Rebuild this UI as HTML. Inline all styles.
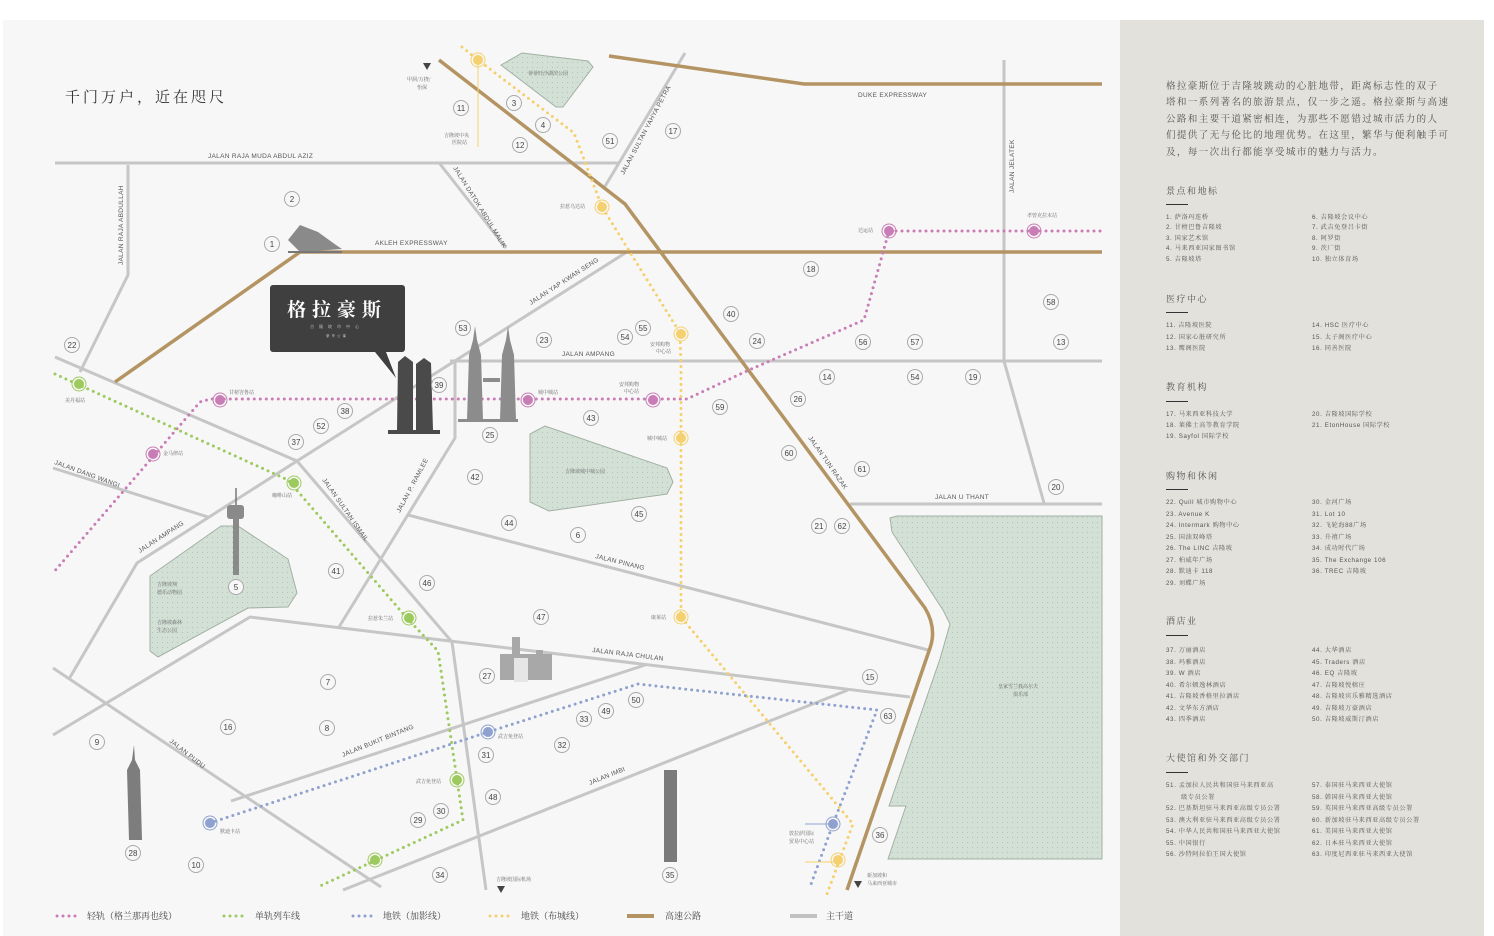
<!DOCTYPE html>
<html><head><meta charset="utf-8"><style>
html,body{margin:0;padding:0;background:#fff;}
svg{display:block;font-family:"Liberation Sans","Noto Sans CJK SC",sans-serif;}
.rd{fill:none;stroke:#c6c6c6;stroke-width:3;}
.hw{fill:none;stroke:#b39462;stroke-width:3.5;}
.dot{fill:none;stroke-width:3;stroke-linecap:round;stroke-dasharray:0 6;}
.lb{font-size:6.5px;fill:#555;letter-spacing:0.3px;}
.st{font-family:"Noto Serif CJK SC",serif;font-size:5px;fill:#666;}
.n circle{fill:#f7f7f7;stroke:#a9a9a9;stroke-width:1;}
.n text{font-size:8px;fill:#444;text-anchor:middle;}
.it{font-size:6.2px;fill:#555;font-family:"Liberation Sans","Noto Serif CJK SC",serif;letter-spacing:0.6px;}
.hd{font-size:9px;fill:#555;letter-spacing:1.5px;font-family:"Noto Serif CJK SC",serif;}
.pa{font-size:9.6px;fill:#555;letter-spacing:1.3px;font-family:"Noto Serif CJK SC",serif;}
</style></head><body>
<svg width="1494" height="936" viewBox="0 0 1494 936">
<defs>
<pattern id="dp" width="5" height="5" patternUnits="userSpaceOnUse"><rect width="5" height="5" fill="#d3e0d6"/><circle cx="2.5" cy="2.5" r="0.5" fill="#a9b9aa"/></pattern>
</defs>
<rect x="3" y="20" width="1117" height="916" fill="#f7f7f7"/>
<rect x="1120" y="20" width="364" height="916" fill="#e2e1dc"/>

<polygon fill="url(#dp)" stroke="#a2b0a4" points="501,65 522,53 588,61 593,67 563,107 556,107"/>
<polygon fill="url(#dp)" stroke="#a2b0a4" points="530,434 545,426 667,468 673,482 667,494 549,511 530,502"/>
<polygon fill="url(#dp)" stroke="#a2b0a4" points="150,576 221,526 238,526 288,559 297,593 288,607 248,608 158,657 150,651"/>
<polygon fill="url(#dp)" stroke="#a2b0a4" points="890,518 897,516 1102,516 1102,859 888,859 906,806 889,806 940,659 950,624 943,610 892,532"/>

<polyline class="rd" points="55,163 619,163"/>
<polyline class="rd" points="685,53 604,188"/>
<polyline class="rd" points="440,164 506,248"/>
<polyline class="rd" points="1004,60 1004,361 1044,503"/>
<polyline class="rd" points="850,504 1102,504"/>
<polyline class="rd" points="450,361 1102,361"/>
<polyline class="rd" points="630,250 297,461 137,563 69,679"/>
<polyline class="rd" points="53,668 381,887"/>
<polyline class="rd" points="53,735 250,617 700,671 910,697"/>
<polyline class="rd" points="128,165 128,275 80,372"/>
<polyline class="rd" points="55,357 297,461 452,642 486,890"/>
<polyline class="rd" points="53,468 208,517"/>
<polyline class="rd" points="455,361 455,438 339,627"/>
<polyline class="rd" points="408,515 928,650"/>
<polyline class="rd" points="231,801 645,665"/>
<polyline class="rd" points="343,890 848,690"/>

<polyline class="hw" points="115,382 300,252 1102,252"/>
<polyline class="hw" points="609,56 804,84 1102,84"/>
<path class="hw" d="M439,60 L625,204 L925,608 Q937,628 930,648 L847,890"/>

<line x1="478" y1="60" x2="478" y2="147" stroke="#f5d06e" stroke-width="1"/>
<polyline class="dot" stroke="#c97db6" points="1100,231 889,231 864,320 749,370 687,399 210,399 200,402 53,573"/>
<polyline class="dot" stroke="#f5d06e" points="462,47 478,60 574,133 602,207 680,333 681,370 681,617 853,824 827,894"/>
<polyline class="dot" stroke="#9dca5e" points="55,374 288,480 406,617 438,651 463,820 320,886"/>
<polyline class="dot" stroke="#8fa2cf" points="210,823 488,732 638,684 877,710 833,824 810,887"/>
<line x1="805" y1="824" x2="830" y2="824" stroke="#8fa2cf" stroke-width="1"/>
<line x1="805" y1="862" x2="835" y2="862" stroke="#f5d06e" stroke-width="1"/>

<g stroke-width="1">
<g fill="#c97db6" stroke="#c97db6"><circle cx="889" cy="231" r="4.5"/><circle cx="1034" cy="231" r="4.5"/><circle cx="653" cy="400" r="4.5"/><circle cx="528" cy="400" r="4.5"/><circle cx="220" cy="400" r="4.5"/><circle cx="153" cy="454" r="4.5"/></g>
<g fill="none" stroke="#c97db6"><circle cx="889" cy="231" r="7"/><circle cx="1034" cy="231" r="7"/><circle cx="653" cy="400" r="7"/><circle cx="528" cy="400" r="7"/><circle cx="220" cy="400" r="7"/><circle cx="153" cy="454" r="7"/></g>
<g fill="#f5d06e" stroke="#f5d06e"><circle cx="478" cy="60" r="4.5"/><circle cx="602" cy="207" r="4.5"/><circle cx="681" cy="334" r="4.5"/><circle cx="681" cy="438" r="4.5"/><circle cx="681" cy="617" r="4.5"/><circle cx="838" cy="860" r="4.5"/></g>
<g fill="none" stroke="#f5d06e"><circle cx="478" cy="60" r="7"/><circle cx="602" cy="207" r="7"/><circle cx="681" cy="334" r="7"/><circle cx="681" cy="438" r="7"/><circle cx="681" cy="617" r="7"/><circle cx="838" cy="860" r="7"/></g>
<g fill="#9dca5e" stroke="#9dca5e"><circle cx="79" cy="384" r="4.5"/><circle cx="294" cy="483" r="4.5"/><circle cx="409" cy="618" r="4.5"/><circle cx="457" cy="780" r="4.5"/><circle cx="375" cy="860" r="4.5"/></g>
<g fill="none" stroke="#9dca5e"><circle cx="79" cy="384" r="7"/><circle cx="294" cy="483" r="7"/><circle cx="409" cy="618" r="7"/><circle cx="457" cy="780" r="7"/><circle cx="375" cy="860" r="7"/></g>
<g fill="#8fa2cf" stroke="#8fa2cf"><circle cx="210" cy="823" r="4.5"/><circle cx="488" cy="732" r="4.5"/><circle cx="833" cy="824" r="4.5"/></g>
<g fill="none" stroke="#8fa2cf"><circle cx="210" cy="823" r="7"/><circle cx="488" cy="732" r="7"/><circle cx="833" cy="824" r="7"/></g>
</g>

<g class="st">
<text x="1027" y="217">孝曾克拉末站</text><text x="858" y="232">达运站</text>
<text x="619" y="386">安邦购物</text><text x="624" y="393">中心站</text>
<text x="538" y="394">城中城站</text><text x="229" y="394">甘榜峇鲁站</text><text x="163" y="455">金马律站</text>
<text x="65" y="402">美丹福站</text><text x="272" y="497">咖啡山站</text><text x="368" y="620">拉惹朱兰站</text>
<text x="416" y="783">武吉免登站</text><text x="220" y="833">默迪卡站</text><text x="498" y="738">武吉免登站</text>
<text x="560" y="208">拉惹乌达站</text><text x="650" y="346">安邦购物</text><text x="656" y="353">中心站</text>
<text x="647" y="440">城中城站</text><text x="651" y="619">康莱站</text>
<text x="444" y="137">吉隆坡中央</text><text x="452" y="144">医院站</text>
<text x="407" y="81">甲洞/万挠/</text><text x="417" y="89">怡保</text>
<text x="789" y="835">敦拉萨国际</text><text x="789" y="843">贸易中心站</text>
<text x="867" y="877">新加坡和</text><text x="867" y="885">马来西亚城市</text>
<text x="496" y="881">吉隆坡国际机场</text>
<text x="528" y="75">蒂蒂旺沙湖滨公园</text><text x="565" y="473">吉隆坡城中城公园</text>
<text x="157" y="586">吉隆坡翔</text><text x="157" y="594">德乐动物园</text>
<text x="157" y="624">吉隆坡森林</text><text x="157" y="632">生态公园</text>
<text x="998" y="688">皇家雪兰莪高尔夫</text><text x="1013" y="696">俱乐部</text>
</g>
<g fill="#444"><polygon points="423,63 431,63 427,70"/><polygon points="497,886 505,886 501,893"/><polygon points="854,881 862,881 858,888"/></g>

<g class="lb">
<text x="208" y="158">JALAN RAJA MUDA ABDUL AZIZ</text>
<text x="858" y="97">DUKE EXPRESSWAY</text>
<text x="375" y="245">AKLEH EXPRESSWAY</text>
<text x="562" y="356">JALAN AMPANG</text>
<text x="935" y="499">JALAN U THANT</text>
<text transform="translate(123,265) rotate(-90)">JALAN RAJA ABDULLAH</text>
<text transform="translate(1014,193) rotate(-90)">JALAN JELATEK</text>
<text transform="translate(624,175) rotate(-62)">JALAN SULTAN YAHYA PETRA</text>
<text transform="translate(453,168) rotate(58)">JALAN DATOK ABDUL MALIK</text>
<text transform="translate(531,305) rotate(-33)">JALAN YAP KWAN SENG</text>
<text transform="translate(808,438) rotate(55)">JALAN TUN RAZAK</text>
<text transform="translate(54,464) rotate(20)">JALAN DANG WANGI</text>
<text transform="translate(140,553) rotate(-33)">JALAN AMPANG</text>
<text transform="translate(322,480) rotate(55)">JALAN SULTAN ISMAIL</text>
<text transform="translate(400,513) rotate(-62)">JALAN P. RAMLEE</text>
<text transform="translate(595,558) rotate(14)">JALAN PINANG</text>
<text transform="translate(592,652) rotate(7)">JALAN RAJA CHULAN</text>
<text transform="translate(343,757) rotate(-22)">JALAN BUKIT BINTANG</text>
<text transform="translate(169,742) rotate(38)">JALAN PUDU</text>
<text transform="translate(590,785) rotate(-22)">JALAN IMBI</text>
</g>

<g>
<path d="M288,240 L300,225 L318,232 L336,245 L342,249 L300,252 Z" fill="#8a8a8a"/>
<line x1="288" y1="252" x2="342" y2="252" stroke="#777" stroke-width="2"/>
<g fill="#8c8c8c"><polygon points="467,420 469,355 473,340 475,326 477,340 481,355 483,420"/><polygon points="500,420 502,355 506,340 508,326 510,340 514,355 516,420"/>
<rect x="483" y="378" width="17" height="4"/><rect x="458" y="419" width="60" height="3"/></g>
<g fill="#4a4a4a"><path d="M397,430 L398,362 L405,356 L413,362 L413,430 Z"/><path d="M416,430 L416,364 L424,358 L431,363 L433,430 Z"/><rect x="388" y="430" width="52" height="4"/></g>
<polygon points="375,352 386,352 396,378" fill="#3f3f3f"/>
<rect x="270" y="285" width="135" height="67" rx="3" fill="#3f3f3f"/>
<text x="337" y="316" text-anchor="middle" font-family="Noto Serif CJK SC,serif" font-size="19" fill="#fff" letter-spacing="6" font-weight="bold">格拉豪斯</text>
<text x="337" y="328" text-anchor="middle" font-family="Noto Serif CJK SC,serif" font-size="4" fill="#ddd" letter-spacing="5">吉隆坡市中心</text>
<text x="337" y="337" text-anchor="middle" font-family="Noto Serif CJK SC,serif" font-size="3.5" fill="#ddd" letter-spacing="2">豪华公寓</text>
<g fill="#8a8a8a"><line x1="236" y1="488" x2="236" y2="505" stroke="#777" stroke-width="1.5"/><rect x="227" y="505" width="17" height="14" rx="3"/><rect x="233" y="519" width="6" height="56"/></g>
<polygon points="129,840 127,770 132,760 134,745 135,760 140,770 142,840" fill="#7d7d7d"/>
<rect x="664" y="770" width="13" height="92" fill="#7a7a7a"/>
<g fill="#a8a8a8"><rect x="500" y="654" width="52" height="26"/><rect x="512" y="637" width="8" height="20"/><rect x="536" y="650" width="7" height="10"/></g>
<rect x="514" y="658" width="14" height="24" fill="#e6e6e6"/>
</g>

<g class="n">
<g transform="translate(272,244)"><circle r="7.5"/><text y="3">1</text></g>
<g transform="translate(292,199)"><circle r="7.5"/><text y="3">2</text></g>
<g transform="translate(514,103)"><circle r="7.5"/><text y="3">3</text></g>
<g transform="translate(543,125)"><circle r="7.5"/><text y="3">4</text></g>
<g transform="translate(236,587)"><circle r="7.5"/><text y="3">5</text></g>
<g transform="translate(578,535)"><circle r="7.5"/><text y="3">6</text></g>
<g transform="translate(328,682)"><circle r="7.5"/><text y="3">7</text></g>
<g transform="translate(327,728)"><circle r="7.5"/><text y="3">8</text></g>
<g transform="translate(97,742)"><circle r="7.5"/><text y="3">9</text></g>
<g transform="translate(196,865)"><circle r="7.5"/><text y="3">10</text></g>
<g transform="translate(461,108)"><circle r="7.5"/><text y="3">11</text></g>
<g transform="translate(520,145)"><circle r="7.5"/><text y="3">12</text></g>
<g transform="translate(1061,342)"><circle r="7.5"/><text y="3">13</text></g>
<g transform="translate(827,377)"><circle r="7.5"/><text y="3">14</text></g>
<g transform="translate(870,677)"><circle r="7.5"/><text y="3">15</text></g>
<g transform="translate(228,727)"><circle r="7.5"/><text y="3">16</text></g>
<g transform="translate(673,131)"><circle r="7.5"/><text y="3">17</text></g>
<g transform="translate(811,269)"><circle r="7.5"/><text y="3">18</text></g>
<g transform="translate(973,377)"><circle r="7.5"/><text y="3">19</text></g>
<g transform="translate(1056,487)"><circle r="7.5"/><text y="3">20</text></g>
<g transform="translate(819,526)"><circle r="7.5"/><text y="3">21</text></g>
<g transform="translate(72,345)"><circle r="7.5"/><text y="3">22</text></g>
<g transform="translate(544,340)"><circle r="7.5"/><text y="3">23</text></g>
<g transform="translate(757,341)"><circle r="7.5"/><text y="3">24</text></g>
<g transform="translate(490,435)"><circle r="7.5"/><text y="3">25</text></g>
<g transform="translate(798,399)"><circle r="7.5"/><text y="3">26</text></g>
<g transform="translate(487,676)"><circle r="7.5"/><text y="3">27</text></g>
<g transform="translate(133,853)"><circle r="7.5"/><text y="3">28</text></g>
<g transform="translate(418,820)"><circle r="7.5"/><text y="3">29</text></g>
<g transform="translate(441,811)"><circle r="7.5"/><text y="3">30</text></g>
<g transform="translate(486,755)"><circle r="7.5"/><text y="3">31</text></g>
<g transform="translate(562,745)"><circle r="7.5"/><text y="3">32</text></g>
<g transform="translate(584,719)"><circle r="7.5"/><text y="3">33</text></g>
<g transform="translate(440,875)"><circle r="7.5"/><text y="3">34</text></g>
<g transform="translate(670,875)"><circle r="7.5"/><text y="3">35</text></g>
<g transform="translate(880,835)"><circle r="7.5"/><text y="3">36</text></g>
<g transform="translate(296,442)"><circle r="7.5"/><text y="3">37</text></g>
<g transform="translate(345,411)"><circle r="7.5"/><text y="3">38</text></g>
<g transform="translate(439,385)"><circle r="7.5"/><text y="3">39</text></g>
<g transform="translate(731,314)"><circle r="7.5"/><text y="3">40</text></g>
<g transform="translate(336,571)"><circle r="7.5"/><text y="3">41</text></g>
<g transform="translate(475,477)"><circle r="7.5"/><text y="3">42</text></g>
<g transform="translate(591,418)"><circle r="7.5"/><text y="3">43</text></g>
<g transform="translate(509,523)"><circle r="7.5"/><text y="3">44</text></g>
<g transform="translate(639,514)"><circle r="7.5"/><text y="3">45</text></g>
<g transform="translate(427,583)"><circle r="7.5"/><text y="3">46</text></g>
<g transform="translate(541,617)"><circle r="7.5"/><text y="3">47</text></g>
<g transform="translate(493,797)"><circle r="7.5"/><text y="3">48</text></g>
<g transform="translate(606,711)"><circle r="7.5"/><text y="3">49</text></g>
<g transform="translate(636,700)"><circle r="7.5"/><text y="3">50</text></g>
<g transform="translate(610,141)"><circle r="7.5"/><text y="3">51</text></g>
<g transform="translate(321,426)"><circle r="7.5"/><text y="3">52</text></g>
<g transform="translate(463,328)"><circle r="7.5"/><text y="3">53</text></g>
<g transform="translate(625,337)"><circle r="7.5"/><text y="3">54</text></g>
<g transform="translate(643,328)"><circle r="7.5"/><text y="3">55</text></g>
<g transform="translate(863,342)"><circle r="7.5"/><text y="3">56</text></g>
<g transform="translate(915,342)"><circle r="7.5"/><text y="3">57</text></g>
<g transform="translate(1051,302)"><circle r="7.5"/><text y="3">58</text></g>
<g transform="translate(720,407)"><circle r="7.5"/><text y="3">59</text></g>
<g transform="translate(789,453)"><circle r="7.5"/><text y="3">60</text></g>
<g transform="translate(862,469)"><circle r="7.5"/><text y="3">61</text></g>
<g transform="translate(842,526)"><circle r="7.5"/><text y="3">62</text></g>
<g transform="translate(888,716)"><circle r="7.5"/><text y="3">63</text></g>
<g transform="translate(915,377)"><circle r="7.5"/><text y="3">54</text></g>
</g>

<text x="65" y="102" font-family="Noto Serif CJK SC,serif" font-size="15" fill="#333" letter-spacing="3">千门万户，近在咫尺</text>

<g font-family="Noto Serif CJK SC,serif" font-size="9" fill="#444">
<line class="dot" stroke="#c97db6" x1="57" y1="916" x2="76" y2="916"/><text x="87" y="919">轻轨（格兰那再也线）</text>
<line class="dot" stroke="#9dca5e" x1="224" y1="916" x2="243" y2="916"/><text x="255" y="919">单轨列车线</text>
<line class="dot" stroke="#8fa2cf" x1="353" y1="916" x2="372" y2="916"/><text x="383" y="919">地铁（加影线）</text>
<line class="dot" stroke="#f5d06e" x1="490" y1="916" x2="509" y2="916"/><text x="521" y="919">地铁（布城线）</text>
<rect x="627" y="914" width="27" height="4" fill="#b39462"/><text x="665" y="919">高速公路</text>
<rect x="790" y="914" width="27" height="4" fill="#c2c2c2"/><text x="826" y="919">主干道</text>
</g>

<g class="pa">
<text x="1166" y="89">格拉豪斯位于吉隆坡跳动的心脏地带，距离标志性的双子</text>
<text x="1166" y="105">塔和一系列著名的旅游景点，仅一步之遥。格拉豪斯与高速</text>
<text x="1166" y="122">公路和主要干道紧密相连，为那些不愿错过城市活力的人</text>
<text x="1166" y="138">们提供了无与伦比的地理优势。在这里，繁华与便利触手可</text>
<text x="1166" y="155">及，每一次出行都能享受城市的魅力与活力。</text>
</g>
<g fill="#333">
<rect x="1166" y="204" width="22" height="1"/><rect x="1166" y="312" width="22" height="1"/><rect x="1166" y="401" width="22" height="1"/>
<rect x="1166" y="489" width="22" height="1"/><rect x="1166" y="635" width="22" height="1"/><rect x="1166" y="772" width="22" height="1"/>
</g>
<g class="hd">
<text x="1166" y="194">景点和地标</text><text x="1166" y="302">医疗中心</text><text x="1166" y="390">教育机构</text>
<text x="1166" y="479">购物和休闲</text><text x="1166" y="624">酒店业</text><text x="1166" y="761">大使馆和外交部门</text>
</g>
<g class="it">
<text x="1166" y="219">1.   萨洛玛连桥</text><text x="1166" y="229">2.   甘榜巴鲁吉隆坡</text><text x="1166" y="240">3.   国家艺术馆</text><text x="1166" y="250">4.   马来西亚国家图书馆</text><text x="1166" y="261">5.   吉隆坡塔</text>
<text x="1312" y="219">6.   吉隆坡会议中心</text><text x="1312" y="229">7.   武吉免登吕卡街</text><text x="1312" y="240">8.   阿罗街</text><text x="1312" y="250">9.   茨厂街</text><text x="1312" y="261">10. 独立体育场</text>
<text x="1166" y="327">11.  吉隆坡医院</text><text x="1166" y="339">12.  国家心脏研究所</text><text x="1166" y="350">13.  鹰阁医院</text>
<text x="1312" y="327">14.  HSC 医疗中心</text><text x="1312" y="339">15.  太子阁医疗中心</text><text x="1312" y="350">16.  同善医院</text>
<text x="1166" y="416">17.  马来西亚科技大学</text><text x="1166" y="427">18.  莱佛士高等教育学院</text><text x="1166" y="438">19.  Sayfol 国际学校</text>
<text x="1312" y="416">20.  吉隆坡国际学校</text><text x="1312" y="427">21.  EtonHouse 国际学校</text>
<text x="1166" y="504">22.  Quill 城市购物中心</text><text x="1166" y="516">23.  Avenue K</text><text x="1166" y="527">24.  Intermark 购物中心</text><text x="1166" y="539">25.  国油双峰塔</text><text x="1166" y="550">26.  The LINC 吉隆坡</text><text x="1166" y="562">27.  柏威年广场</text><text x="1166" y="573">28.  默迪卡 118</text><text x="1166" y="585">29.  刘蝶广场</text>
<text x="1312" y="504">30.  金河广场</text><text x="1312" y="516">31.  Lot 10</text><text x="1312" y="527">32.  飞轮海88广场</text><text x="1312" y="539">33.  升禧广场</text><text x="1312" y="550">34.  成功时代广场</text><text x="1312" y="562">35.  The Exchange 106</text><text x="1312" y="573">36.  TREC 吉隆坡</text>
<text x="1166" y="652">37.  万丽酒店</text><text x="1166" y="664">38.  玛雅酒店</text><text x="1166" y="675">39.  W 酒店</text><text x="1166" y="687">40.  希尔顿逸林酒店</text><text x="1166" y="698">41.  吉隆坡香格里拉酒店</text><text x="1166" y="710">42.  文华东方酒店</text><text x="1166" y="721">43.  四季酒店</text>
<text x="1312" y="652">44.  大华酒店</text><text x="1312" y="664">45.  Traders 酒店</text><text x="1312" y="675">46.  EQ 吉隆坡</text><text x="1312" y="687">47.  吉隆坡悦榕庄</text><text x="1312" y="698">48.  吉隆坡宾乐雅精选酒店</text><text x="1312" y="710">49.  吉隆坡万豪酒店</text><text x="1312" y="721">50.  吉隆坡威斯汀酒店</text>
<text x="1166" y="787">51.  孟加拉人民共和国驻马来西亚高</text><text x="1181" y="799">级专员公署</text><text x="1166" y="810">52.  巴基斯坦驻马来西亚高级专员公署</text><text x="1166" y="822">53.  澳大利亚驻马来西亚高级专员公署</text><text x="1166" y="833">54.  中华人民共和国驻马来西亚大使馆</text><text x="1166" y="845">55.  中国银行</text><text x="1166" y="856">56.  沙特阿拉伯王国大使馆</text>
<text x="1312" y="787">57.  泰国驻马来西亚大使馆</text><text x="1312" y="799">58.  韩国驻马来西亚大使馆</text><text x="1312" y="810">59.  英国驻马来西亚高级专员公署</text><text x="1312" y="822">60.  新加坡驻马来西亚高级专员公署</text><text x="1312" y="833">61.  美国驻马来西亚大使馆</text><text x="1312" y="845">62.  日本驻马来西亚大使馆</text><text x="1312" y="856">63.  印度尼西亚驻马来西亚大使馆</text>
</g>
</svg>
</body></html>
